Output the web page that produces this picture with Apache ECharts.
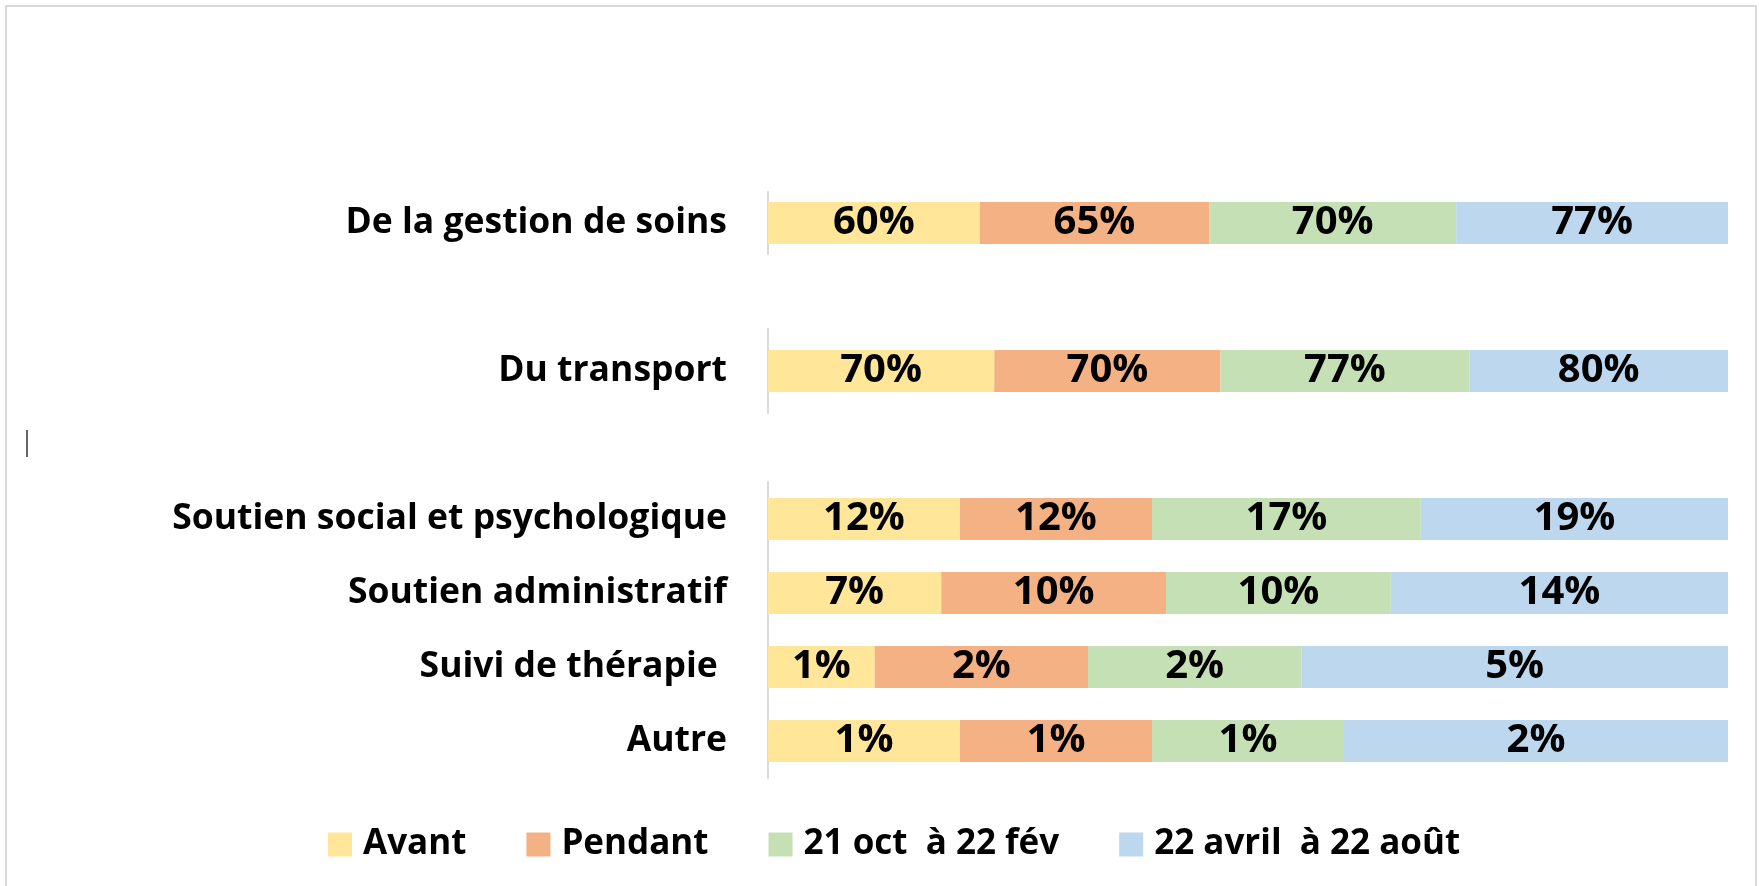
<!DOCTYPE html>
<html>
<head>
<meta charset="utf-8">
<script src="https://cdn.jsdelivr.net/npm/echarts@6/dist/echarts.min.js"></script>
<style>
  html, body { margin: 0; padding: 0; background: #fff; }
  #chart { width: 1759px; height: 886px; }
</style>
</head>
<body>
<div id="chart"></div>
<script>
// rows, top to bottom (three blocks, as in the source sheet)
const topRows = ["De la gestion de soins"];
const midRows = ["Du transport"];
const lowRows = ["Soutien social et psychologique", "Soutien administratif", "Suivi de thérapie ", "Autre"];

const periods = ["Avant", "Pendant", "21 oct  à 22 fév", "22 avril  à 22 août"];

// values per period, same row order as above (labels show them rounded)
const avant = [60, 70, 12, 7.4, 1.2, 1];
const pendant = [65, 70, 12, 9.6, 2.4, 1];
const octFev = [70, 77, 16.8, 9.6, 2.4, 1];
const avrAout = [77, 80, 19.2, 14.4, 4.8, 2];

const COLORS = ["#FFE699", "#F4B183", "#C5E0B4", "#BDD7EE"];
const FONT = "Open Sans";

const allSeries = [avant, pendant, octFev, avrAout];
const rowTotals = avant.map((_, i) => allSeries.reduce((s, arr) => s + arr[i], 0));

// row index ranges for each grid
const blocks = [
  { cats: topRows, from: 0, top: 192, height: 62 },
  { cats: midRows, from: 1, top: 329, height: 84 },
  { cats: lowRows, from: 2, top: 482, height: 296 },
];

const grid = blocks.map((b) => ({ left: 768, right: 31, top: b.top, height: b.height }));

const xAxis = blocks.map((_, gi) => ({
  type: "value",
  gridIndex: gi,
  min: 0,
  max: 1,
  show: false,
}));

const yAxis = blocks.map((b, gi) => ({
  type: "category",
  gridIndex: gi,
  data: b.cats,
  inverse: true,
  axisTick: { show: false },
  axisLine: { lineStyle: { color: "#d9d9d9", width: 2 } },
  axisLabel: {
    margin: 41,
    color: "#000",
    fontFamily: FONT,
    fontWeight: "bold",
    fontSize: 35.5,
  },
}));

const series = [];
blocks.forEach((b, gi) => {
  allSeries.forEach((arr, si) => {
    series.push({
      name: periods[si],
      type: "bar",
      stack: "row" + gi,
      xAxisIndex: gi,
      yAxisIndex: gi,
      barWidth: 42,
      itemStyle: { color: COLORS[si] },
      label: {
        show: true,
        position: "inside",
        color: "#000",
        fontFamily: FONT,
        fontWeight: "bold",
        fontSize: 40,
        formatter: (p) => Math.round(p.data.raw) + "%",
      },
      data: b.cats.map((_, k) => {
        const r = b.from + k;
        return { value: arr[r] / rowTotals[r], raw: arr[r] };
      }),
    });
  });
});

const chart = echarts.init(document.getElementById("chart"));
chart.setOption({
  animation: false,
  color: COLORS,
  grid,
  xAxis,
  yAxis,
  legend: {
    data: periods,
    left: 323,
    top: 822,
    icon: "rect",
    itemWidth: 24,
    itemHeight: 24,
    itemGap: 60,
    textStyle: {
      color: "#000",
      fontFamily: FONT,
      fontWeight: "bold",
      fontSize: 35,
      padding: [0, 0, 0, 6],
    },
  },
  graphic: [
    {
      type: "rect",
      silent: true,
      shape: { x: 6, y: 6, width: 1750, height: 900 },
      style: { fill: "none", stroke: "#d9d9d9", lineWidth: 2 },
    },
    {
      type: "line",
      silent: true,
      shape: { x1: 27, y1: 430, x2: 27, y2: 457 },
      style: { stroke: "#333", lineWidth: 1.5 },
    },
  ],
  series,
});
</script>
</body>
</html>
